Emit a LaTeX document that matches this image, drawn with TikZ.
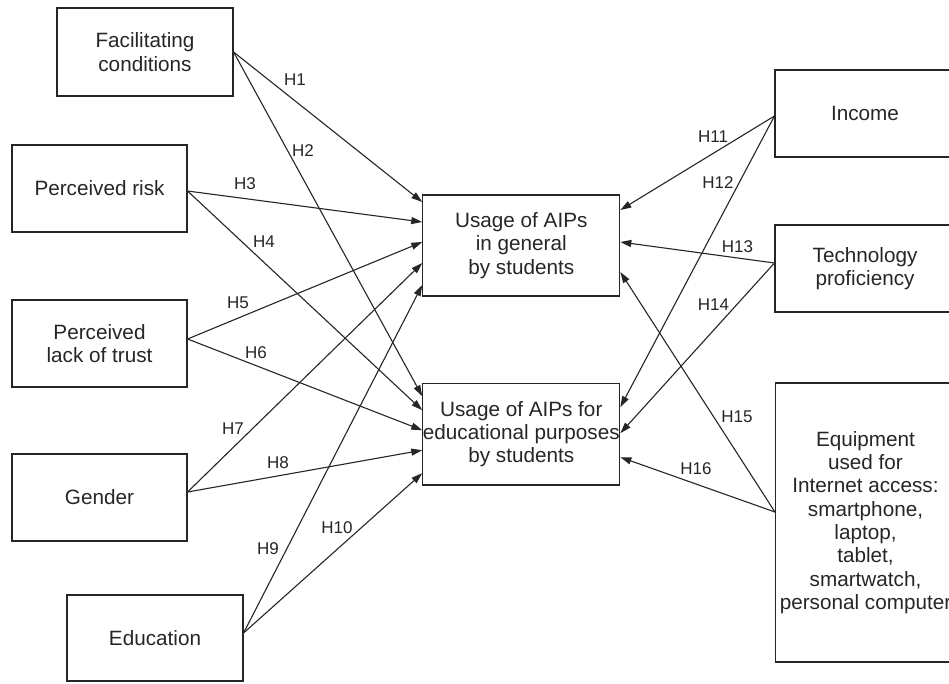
\documentclass[tikz,border=0pt]{standalone}
\usepackage{fontspec}
\setmainfont{Liberation Sans}
\usetikzlibrary{arrows.meta}
\begin{document}
\begin{tikzpicture}[x=1pt,y=-1pt,
  box/.style={draw=black!85, line width=1.1pt, inner sep=0pt, align=center,
    font=\fontsize{20.7}{23.3}\selectfont, text=black!85},
  lbl/.style={font=\fontsize{17}{20}\selectfont, inner sep=0pt, text=black!85},
  arr/.style={draw=black!85, line width=1.1pt, -{Triangle[length=11pt,width=7pt]}}]
\useasboundingbox (0,0) rectangle (949,683);
\clip (0,0) rectangle (949,683);
\fill[white] (0,0) rectangle (949,683);

% left boxes
\node[box, minimum width=176pt, minimum height=88pt] (fc) at (145,52) {Facilitating\\conditions};
\node[box, minimum width=175pt, minimum height=87pt] (pr) at (99.5,188.5) {Perceived risk};
\node[box, minimum width=175pt, minimum height=87pt] (pl) at (99.5,343.5) {Perceived\\lack of trust};
\node[box, minimum width=175pt, minimum height=87pt] (ge) at (99.5,497.5) {Gender};
\node[box, minimum width=176pt, minimum height=86pt] (ed) at (155,638) {Education};

% centre boxes
\node[box, minimum width=197pt, minimum height=101pt] (ug) at (521.3,245.5) {Usage of AIPs\\in general\\by students};
\node[box, minimum width=197pt, minimum height=101.5pt] (ue) at (521.3,434.2) {Usage of AIPs for\\educational purposes\\by students};

% right boxes (their right edges lie just beyond the picture)
\node[box, minimum width=180pt, minimum height=87pt] (inc) at (865,113.5) {Income};
\node[box, minimum width=180pt, minimum height=87pt] (tp) at (865,268.5) {Technology\\proficiency};
\node[box, minimum width=180pt, minimum height=279pt] (eq) at (865.5,522.5) {Equipment\\used for\\Internet access:\\smartphone,\\laptop,\\tablet,\\smartwatch,\\personal computer};

% arrows from the left
\draw[arr] (fc.east) -- ([yshift=43.5pt]ug.west);
\draw[arr] (fc.east) -- ([yshift=38pt]ue.west);
\draw[arr] ([yshift=-2.5pt]pr.east) -- ([yshift=23.5pt]ug.west);
\draw[arr] ([yshift=-2.5pt]pr.east) -- ([yshift=24pt]ue.west);
\draw[arr] ([yshift=4.5pt]pl.east) -- ([yshift=3.5pt]ug.west);
\draw[arr] ([yshift=4.5pt]pl.east) -- ([yshift=4pt]ue.west);
\draw[arr] ([yshift=5.5pt]ge.east) -- ([yshift=-17.5pt]ug.west);
\draw[arr] ([yshift=5.5pt]ge.east) -- ([yshift=-16pt]ue.west);
\draw[arr] ([yshift=5pt]ed.east) -- ([yshift=-39.5pt]ug.west);
\draw[arr] ([yshift=5pt]ed.east) -- ([yshift=-39pt]ue.west);

% arrows from the right
\draw[arr] ([yshift=-2.5pt]inc.west) -- ([yshift=35.5pt]ug.east);
\draw[arr] ([yshift=-2.5pt]inc.west) -- ([yshift=27pt]ue.east);
\draw[arr] ([yshift=5.5pt]tp.west) -- ([yshift=3.5pt]ug.east);
\draw[arr] ([yshift=5.5pt]tp.west) -- ([yshift=1pt]ue.east);
\draw[arr] ([yshift=10.5pt]eq.west) -- ([yshift=-26.5pt]ug.east);
\draw[arr] ([yshift=10.5pt]eq.west) -- ([yshift=-23pt]ue.east);

% labels
\node[lbl] (h1) at (295,80) {H1};
\node[lbl] (h2) at (303,151) {H2};
\node[lbl] (h3) at (245,184) {H3};
\node[lbl] (h4) at (264,242) {H4};
\node[lbl] (h5) at (238,303) {H5};
\node[lbl] (h6) at (256,353) {H6};
\node[lbl] (h7) at (233,429) {H7};
\node[lbl] (h8) at (278,463) {H8};
\node[lbl] (h9) at (268,549) {H9};
\node[lbl] (h10) at (337,528) {H10};
\node[lbl] (h11) at (713,137) {H11};
\node[lbl] (h12) at (718,183) {H12};
\node[lbl] (h13) at (737.5,247) {H13};
\node[lbl] (h14) at (713.5,305) {H14};
\node[lbl] (h15) at (737,417) {H15};
\node[lbl] (h16) at (696,469) {H16};
\end{tikzpicture}
\end{document}
